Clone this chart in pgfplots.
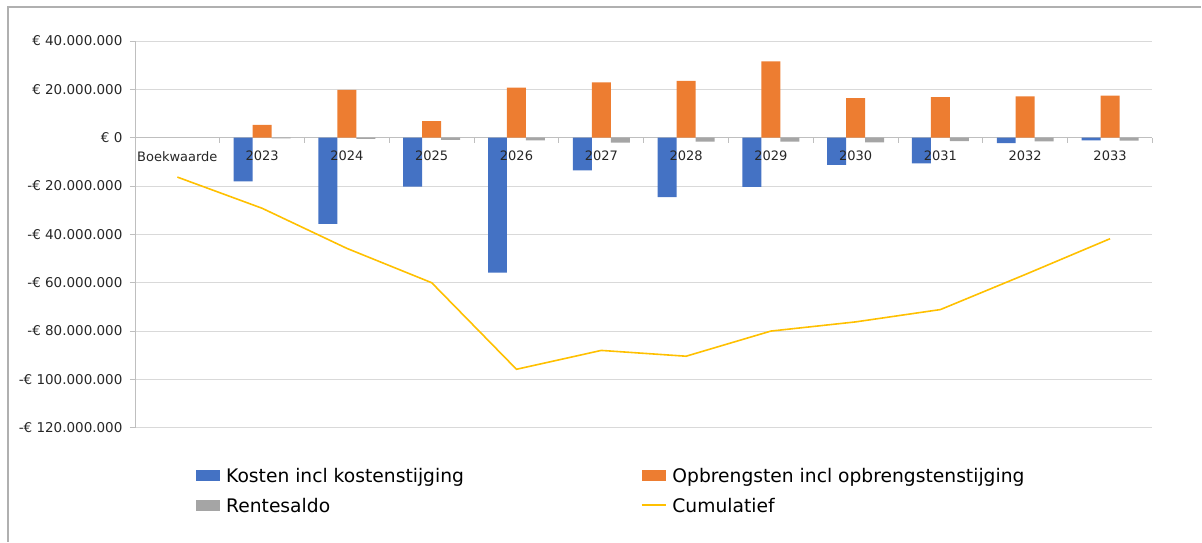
\documentclass[border=0pt]{standalone}
\usepackage{fontspec}
\setmainfont{DejaVu Sans}
\usepackage{pgfplots}
\pgfplotsset{compat=1.18}
\definecolor{cK}{HTML}{4472C4}
\definecolor{cO}{HTML}{ED7D31}
\definecolor{cR}{HTML}{A5A5A5}
\definecolor{cC}{HTML}{FFC000}
\definecolor{gridc}{HTML}{D9D9D9}
\definecolor{axc}{HTML}{BFBFBF}
\definecolor{framec}{HTML}{B0B0B0}
\pgfplotsset{
  base/.style={
    at={(135pt,114pt)}, anchor=south west,
    scale only axis, width=1018pt, height=387pt,
    xmin=-0.5, xmax=11.5, ymin=-120, ymax=40,
  },
}
\begin{document}
\begin{tikzpicture}[x=1pt,y=1pt]
\path (0,0) rectangle (1202,542);
\draw[color=framec, line width=1.2pt] (8,0) -- (8,535) -- (1202,535);
\begin{axis}[
  base,
  axis x line*=middle, axis y line*=left,
  axis line style={color=axc, line width=0.8pt},
  xtick={0,...,11},
  xticklabels={},
  minor xtick={-0.5,0.5,...,11.5},
  major x tick style={draw=none},
  minor x tick style={color=axc, line width=0.8pt},
  minor tick length=5pt,
  major tick length=5pt,
  tick align=outside,
  ytick={-120,-100,...,40},
  yticklabels={-€ 120.000.000,-€ 100.000.000,-€ 80.000.000,-€ 60.000.000,-€ 40.000.000,-€ 20.000.000,€ 0,€ 20.000.000,€ 40.000.000},
  y tick style={color=axc, line width=0.8pt},
  ymajorgrids, grid style={color=gridc, line width=0.9pt},
  yticklabel style={font=\fontsize{13.5}{16}\selectfont, color=black!85, xshift=-4pt},
  legend columns=2,
  legend style={at={(0.06,-0.10)}, anchor=north west, draw=none, fill=none, inner sep=0pt,
    font=\fontsize{18.7}{22}\selectfont, row sep=10pt,
    /tikz/every odd column/.append style={column sep=4pt},
    /tikz/every even column/.append style={column sep=175pt}},
  legend cell align=left,
]
\addplot[ybar, bar width=19pt, bar shift=-19pt, fill=cK, draw=none,
  legend image code/.code={\fill[fill=cK] (0pt,-4.5pt) rectangle (24pt,6.5pt);}]
  coordinates {(1,-18.1) (2,-35.7) (3,-20.2) (4,-55.8) (5,-13.5) (6,-24.6) (7,-20.3) (8,-11.3) (9,-10.6) (10,-2.3) (11,-1.1)};
\addlegendentry{Kosten incl kostenstijging}
\addplot[ybar, bar width=19pt, bar shift=0pt, fill=cO, draw=none,
  legend image code/.code={\fill[fill=cO] (0pt,-4.5pt) rectangle (24pt,6.5pt);}]
  coordinates {(1,5.3) (2,19.8) (3,6.8) (4,20.7) (5,22.9) (6,23.5) (7,31.6) (8,16.4) (9,16.8) (10,17.1) (11,17.4)};
\addlegendentry{Opbrengsten incl opbrengstenstijging}
\addplot[ybar, bar width=19pt, bar shift=19pt, fill=cR, draw=none,
  legend image code/.code={\fill[fill=cR] (0pt,-4.5pt) rectangle (24pt,6.5pt);}]
  coordinates {(1,-0.3) (2,-0.5) (3,-0.9) (4,-1.1) (5,-2.0) (6,-1.6) (7,-1.6) (8,-1.9) (9,-1.4) (10,-1.5) (11,-1.2)};
\addlegendentry{Rentesaldo}
\addplot[draw=cC, line width=1.6pt, mark=none,
  legend image code/.code={\draw[draw=cC, line width=1.6pt] (0pt,1pt) -- (24pt,1pt);}]
  coordinates {(0,-16.3) (1,-29.2) (2,-45.8) (3,-60.0) (4,-95.8) (5,-88.0) (6,-90.4) (7,-80.0) (8,-76.2) (9,-71.1) (10,-56.6) (11,-41.8)};
\addlegendentry{Cumulatief}
\end{axis}
% overlay axis: category labels drawn on top of the bars
\begin{axis}[
  base,
  axis x line*=middle, axis y line=none,
  x axis line style={draw=none},
  xtick={0,...,11},
  xticklabels={Boekwaarde,2023,2024,2025,2026,2027,2028,2029,2030,2031,2032,2033},
  major x tick style={draw=none},
  major tick length=0pt,
  ytick=\empty,
  xticklabel style={font=\fontsize{13}{15}\selectfont, color=black!85, yshift=-10pt},
]
\end{axis}
\end{tikzpicture}
\end{document}
